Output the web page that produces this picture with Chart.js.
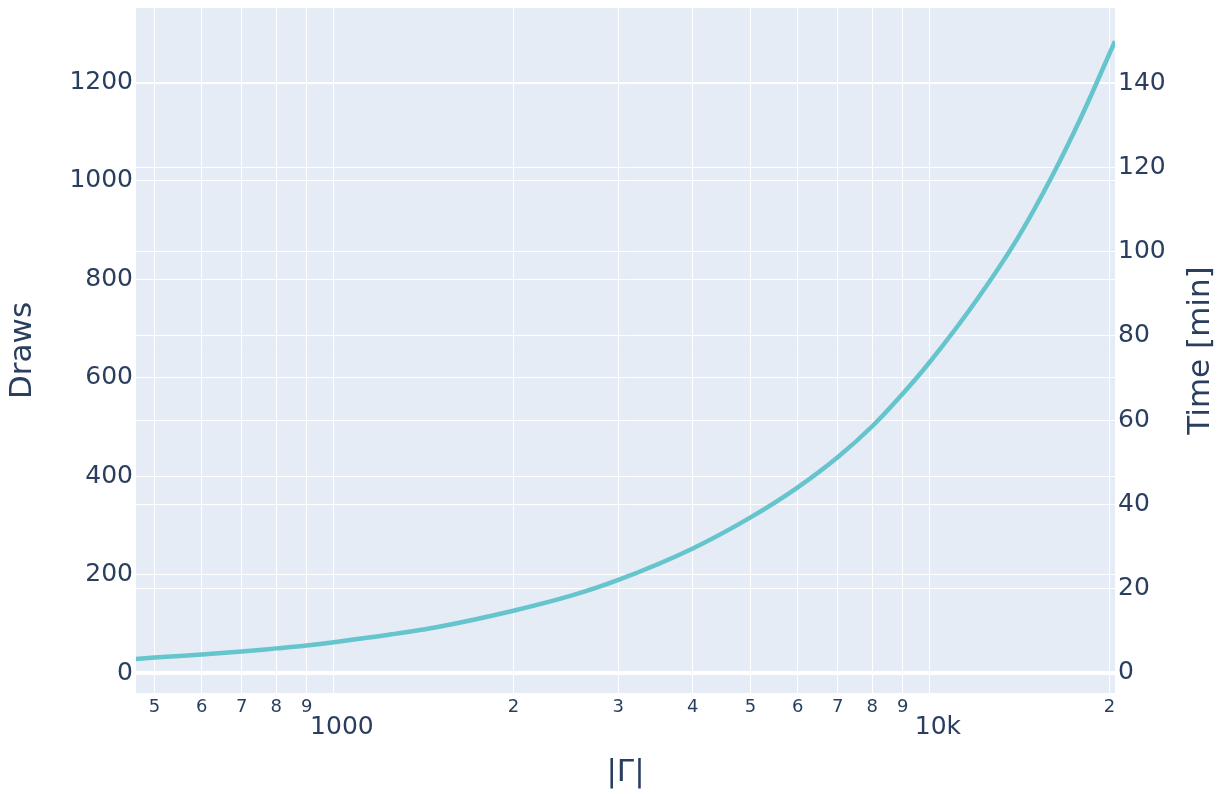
<!DOCTYPE html>
<html>
<head>
<meta charset="utf-8">
<script src="https://cdn.jsdelivr.net/npm/chart.js@4"></script>
<style>
  body { margin: 0; background: #fff; }
  canvas { display: block; }
</style>
</head>
<body>
<canvas id="chart" width="1227" height="794"></canvas>
<script>
// |Gamma| sizes (x) and number of draws
const gammaSizes = [465, 500, 600, 700, 800, 900, 1000, 1250, 1500, 2000, 2500, 3000,
    4000, 5000, 6000, 7000, 8000, 9000, 10000, 12000, 14000, 16000, 18000, 20437];
const draws = [28.5, 31.5, 37.5, 43.5, 50, 56, 62.5, 78.5, 94, 126.5, 157, 189,
    253, 316, 377, 438, 501, 567, 632, 759, 881, 1007, 1133, 1283];

// x tick positions and their labels
const xTickValues = [500, 600, 700, 800, 900, 1000, 2000, 3000, 4000, 5000, 6000, 7000, 8000, 9000, 10000, 20000];
const xTickLabels = ['5', '6', '7', '8', '9', '1000', '2', '3', '4', '5', '6', '7', '8', '9', '10k', '2'];
const xMajorTicks = [1000, 10000];

const drawsTicks = [0, 200, 400, 600, 800, 1000, 1200];
const timeTicks = [0, 20, 40, 60, 80, 100, 120, 140];

const textColor = '#2a3f5f';
Chart.defaults.font.family = '"DejaVu Sans", Verdana, sans-serif';
Chart.defaults.color = textColor;

const plotBackground = {
    id: 'plotBackground',
    beforeDraw(chart) {
        const { ctx, chartArea } = chart;
        ctx.save();
        ctx.fillStyle = '#E5ECF6';
        ctx.fillRect(chartArea.left, chartArea.top, chartArea.right - chartArea.left, chartArea.bottom - chartArea.top);
        ctx.restore();
    }
};

// right axis title reads bottom-to-top like the left one
const rightTitle = {
    id: 'rightTitle',
    afterDraw(chart) {
        const { ctx, chartArea } = chart;
        ctx.save();
        ctx.translate(1201, (chartArea.top + chartArea.bottom) / 2);
        ctx.rotate(-Math.PI / 2);
        ctx.font = '31px "DejaVu Sans", Verdana, sans-serif';
        ctx.fillStyle = textColor;
        ctx.textAlign = 'center';
        ctx.textBaseline = 'middle';
        ctx.fillText('Time [min]', 0, 0);
        ctx.restore();
    }
};

function fixSize(w, h) {
    return function(scale) {
        if (w !== null) scale.width = w;
        if (h !== null) scale.height = h;
        scale.paddingTop = 0;
        scale.paddingBottom = 0;
        scale.paddingLeft = 0;
        scale.paddingRight = 0;
    };
}

function gridWidth(ctx) {
    return ctx.tick && ctx.tick.value === 0 ? 3 : 1;
}

new Chart(document.getElementById('chart'), {
    type: 'line',
    data: {
        datasets: [{
            label: 'Draws',
            data: gammaSizes.map((g, i) => ({ x: g, y: draws[i] })),
            borderColor: '#66C5CC',
            borderWidth: 4.5,
            pointRadius: 0,
            cubicInterpolationMode: 'monotone',
            yAxisID: 'y'
        }]
    },
    options: {
        responsive: false,
        animation: false,
        layout: { padding: { top: 8, left: 0, right: 0, bottom: 0 } },
        plugins: {
            legend: { display: false },
            tooltip: { enabled: false }
        },
        scales: {
            x: {
                type: 'logarithmic',
                min: 465.4,
                max: 20437,
                afterBuildTicks: function(scale) {
                    scale.ticks = xTickValues.map(v => ({ value: v }));
                },
                afterFit: fixSize(null, 101),
                border: { display: false },
                grid: { color: '#ffffff', lineWidth: 1, drawTicks: false },
                ticks: {
                    autoSkip: false,
                    maxRotation: 0,
                    padding: 4,
                    color: textColor,
                    font: function(ctx) {
                        if (ctx.tick && xMajorTicks.includes(ctx.tick.value)) {
                            return { size: 25, lineHeight: 0.8 };
                        }
                        return { size: 18, lineHeight: 1.2 };
                    },
                    callback: function(value) {
                        const i = xTickValues.indexOf(value);
                        if (i < 0) return '';
                        if (xMajorTicks.includes(value)) return ['', '  ' + xTickLabels[i]];
                        return xTickLabels[i];
                    }
                },
                title: {
                    display: true,
                    text: '|Γ|',
                    color: textColor,
                    font: { size: 31 },
                    padding: { top: 0, bottom: 2 }
                }
            },
            y: {
                position: 'left',
                min: -40.6,
                max: 1350.3,
                afterBuildTicks: function(scale) {
                    scale.ticks = drawsTicks.map(v => ({ value: v }));
                },
                afterFit: fixSize(136, null),
                border: { display: false },
                grid: { color: '#ffffff', lineWidth: gridWidth, drawTicks: false },
                ticks: {
                    padding: 3,
                    color: textColor,
                    font: { size: 25 },
                    callback: value => String(value)
                },
                title: {
                    display: true,
                    text: 'Draws',
                    color: textColor,
                    font: { size: 31 },
                    padding: { top: 4, bottom: 0 }
                }
            },
            y2: {
                position: 'right',
                min: -4.746,
                max: 157.8,
                afterBuildTicks: function(scale) {
                    scale.ticks = timeTicks.map(v => ({ value: v }));
                },
                afterFit: fixSize(112, null),
                border: { display: false },
                grid: { color: '#ffffff', lineWidth: gridWidth, drawTicks: false },
                ticks: {
                    padding: 3,
                    color: textColor,
                    font: { size: 25 },
                    callback: value => String(value)
                }
            }
        }
    },
    plugins: [plotBackground, rightTitle]
});
</script>
</body>
</html>
